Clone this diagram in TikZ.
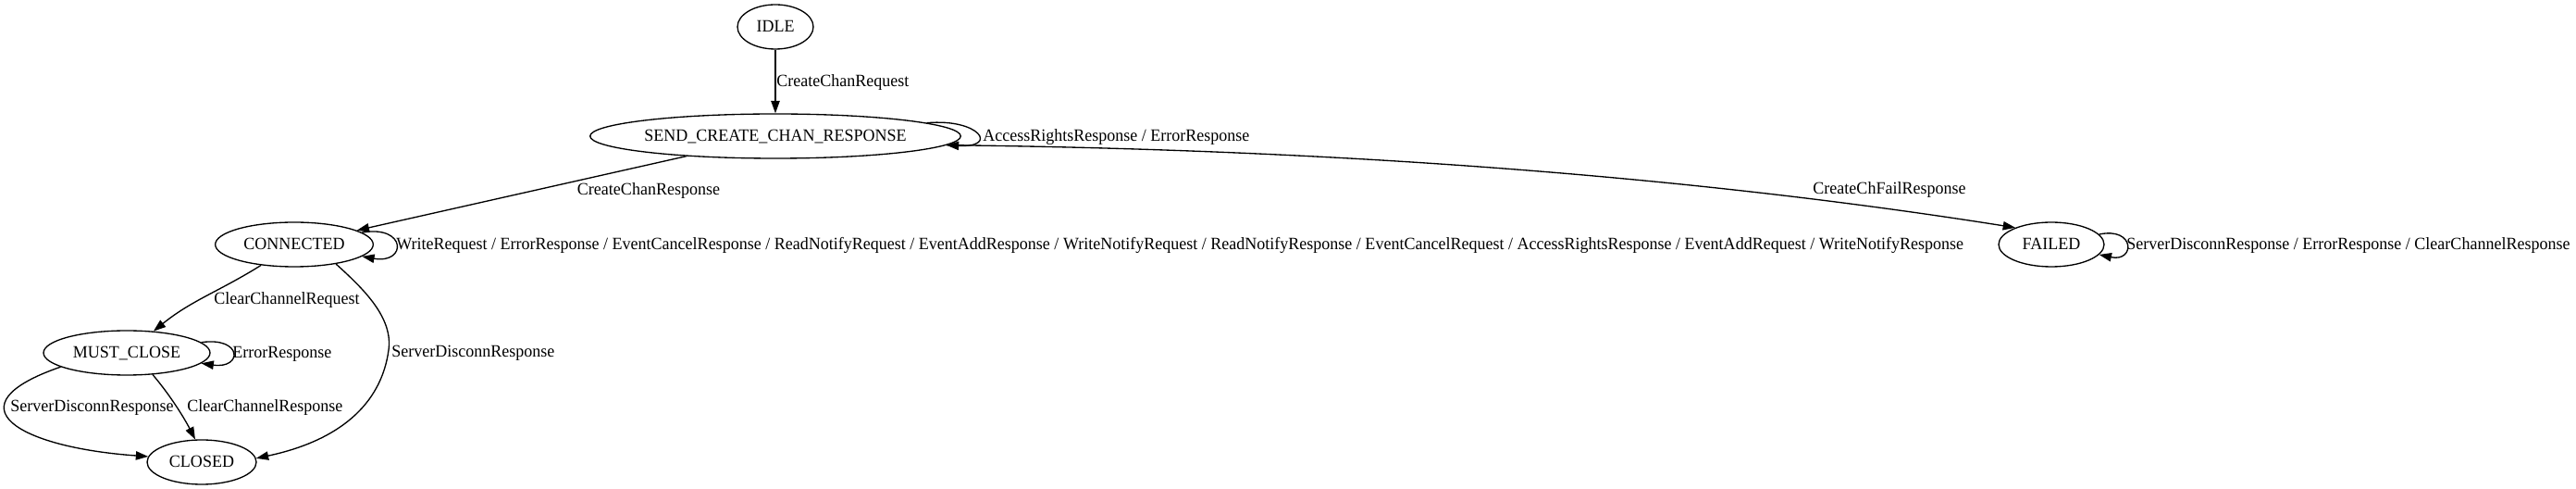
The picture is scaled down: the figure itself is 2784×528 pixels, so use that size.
\documentclass[tikz,border=0pt]{standalone}
\usepackage{fontspec}
\setmainfont{Liberation Serif}[FakeStretch=0.965]
\usetikzlibrary{arrows.meta,shapes.geometric}
\tikzset{
  txt/.style={font=\fontsize{14pt}{16pt}\selectfont, text height=10pt, text depth=1.8pt},
  state/.style={txt, draw, ellipse, line width=1pt, inner sep=0pt, minimum height=36pt},
  trans/.style={line width=1pt, -{Triangle[length=10pt,width=7pt]}},
  lab/.style={txt, inner sep=0pt}
}
\begin{document}
\begin{tikzpicture}[x=0.75pt,y=0.75pt]
\useasboundingbox (0,0) rectangle (2784,528);
% states
\node[state, minimum width=61.5pt] (idle) at (838,499) {IDLE};
\node[state, minimum width=298.5pt] (send) at (838,381) {SEND\_CREATE\_CHAN\_RESPONSE};
\node[state, minimum width=128pt] (connected) at (318,264) {CONNECTED};
\node[state, minimum width=85.5pt] (failed) at (2217,264) {FAILED};
\node[state, minimum width=135pt] (mustclose) at (137,147) {MUST\_CLOSE};
\node[state, minimum width=88.5pt] (closed) at (218,29) {CLOSED};

% transitions
\draw[trans] (idle) -- (send);
\draw[trans] (send) -- (connected);
\draw[trans] (send.-3) .. controls (1407,367) and (1800,342) .. (failed.155);
\draw[trans] (connected) to[out=212,in=39] (mustclose);
\draw[trans] (connected.-25) .. controls (393,216) and (425,185) .. (420,150)
  .. controls (412,91) and (366,52) .. (closed.4);
\draw[trans] (mustclose.192) .. controls (-56,90) and (20,45) .. (closed.174);
\draw[trans] (mustclose.-40) .. controls (185,100) and (200,75) .. (closed.106);

% self loops
\draw[trans] (send) to[out=5,in=-3,distance=43pt] (send);
\draw[trans] (connected) to[out=10,in=-10,distance=37pt] (connected);
\draw[trans] (failed) to[out=12,in=-12,distance=30pt] (failed);
\draw[trans] (mustclose) to[out=8,in=-8,distance=34pt] (mustclose);

% labels
\node[lab, anchor=west] (lcreq) at (839,440) {CreateChanRequest};
\node[lab] (lcresp) at (701,323) {CreateChanResponse};
\node[lab] (lcfail) at (2042,323.5) {CreateChFailResponse};
\node[lab, anchor=west] (lsend) at (1062,381) {AccessRightsResponse / ErrorResponse};
\node[lab, anchor=west] (lconn) at (428,264) {WriteRequest / ErrorResponse / EventCancelResponse / ReadNotifyRequest / EventAddResponse / WriteNotifyRequest / ReadNotifyResponse / EventCancelRequest / AccessRightsResponse / EventAddRequest / WriteNotifyResponse};
\node[lab, anchor=west] (lfail) at (2298,264) {ServerDisconnResponse / ErrorResponse / ClearChannelResponse};
\node[lab] (lclreq) at (310,205) {ClearChannelRequest};
\node[lab, anchor=west] (lerr) at (251,147) {ErrorResponse};
\node[lab, anchor=west] (ldiscr) at (423,147.5) {ServerDisconnResponse};
\node[lab] (ldiscl) at (99.5,88.5) {ServerDisconnResponse};
\node[lab, anchor=west] (lclresp) at (202,88.5) {ClearChannelResponse};
\end{tikzpicture}
\end{document}
